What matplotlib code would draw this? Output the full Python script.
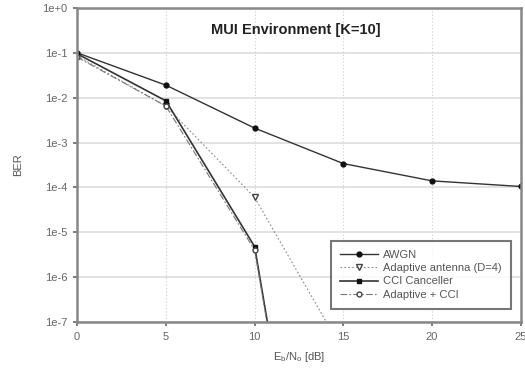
import numpy as np
import matplotlib
matplotlib.use('Agg')
import matplotlib.pyplot as plt

plt.rcParams['font.family'] = ['Liberation Sans', 'DejaVu Sans']

snr = [0, 5, 10, 15, 20, 25]
awgn = [1.0e-1, 1.9e-2, 2.1e-3, 3.4e-4, 1.4e-4, 1.05e-4]

snr_ad = [0, 5, 10, 15]
adaptive = [8.5e-2, 6.5e-3, 6.0e-5, 2.2e-8]

snr_cci = [0, 5, 10, 15]
cci = [9.5e-2, 8.5e-3, 4.8e-6, 1e-17]
adcci = [8.0e-2, 6.5e-3, 4.0e-6, 1e-17]

yticks = [1e0, 1e-1, 1e-2, 1e-3, 1e-4, 1e-5, 1e-6, 1e-7]
ylabels = ['1e+0', '1e-1', '1e-2', '1e-3', '1e-4', '1e-5', '1e-6', '1e-7']

fig = plt.figure(figsize=(5.25, 3.78), dpi=100)
ax = fig.add_axes([0.147, 0.148, 0.845, 0.831])

ax.semilogy(snr, awgn, color='#333333', lw=1.0, marker='o', ms=3.5,
            mfc='#111111', mec='#111111', label='AWGN')
ax.semilogy(snr_ad, adaptive, color='#888888', lw=0.8, ls=(0, (1.5, 2)),
            marker='v', ms=4, mfc='white', mec='#444444', label='Adaptive antenna (D=4)')
ax.semilogy(snr_cci, cci, color='#333333', lw=1.2, marker='s', ms=3.5,
            mfc='#111111', mec='#111111', label='CCI Canceller')
ax.semilogy(snr_cci, adcci, color='#777777', lw=0.8, ls=(0, (6, 2, 1.5, 2)),
            marker='o', ms=3.5, mfc='white', mec='#444444', label='Adaptive + CCI')

ax.set_xlim(0, 25)
ax.set_ylim(1e-7, 1e0)
ax.set_xticks([0, 5, 10, 15, 20, 25])
ax.set_yticks(yticks)
ax.set_yticklabels(ylabels)
ax.minorticks_off()
ax.tick_params(labelsize=8, colors='#666666', length=3, width=1.2, pad=4)

ax.grid(axis='y', color='#dddddd', lw=1.2, ls='-')
ax.grid(axis='x', color='#cccccc', lw=0.8, ls=(0, (1, 2)))
ax.set_axisbelow(True)

for s in ax.spines.values():
    s.set_color('#888888')
    s.set_linewidth(1.8)

ax.text(0.492, 0.93, 'MUI Environment [K=10]', transform=ax.transAxes,
        ha='center', va='center', fontsize=10.5, fontweight='bold', color='#222222')

ax.set_ylabel('BER', fontsize=8, color='#555555', labelpad=14)
ax.set_xlabel(r'E$_{\mathregular{b}}$/N$_{\mathregular{o}}$ [dB]', fontsize=8,
              color='#555555', labelpad=6)

leg = ax.legend(loc='lower right', bbox_to_anchor=(0.99, 0.025), fontsize=8,
                frameon=True, fancybox=False, handlelength=3.4, borderpad=0.8,
                labelspacing=0.3, handletextpad=0.5)
leg.get_frame().set_edgecolor('#555555')
leg.get_frame().set_linewidth(1.5)
for t in leg.get_texts():
    t.set_color('#555555')

fig.savefig('out.png', dpi=100)
